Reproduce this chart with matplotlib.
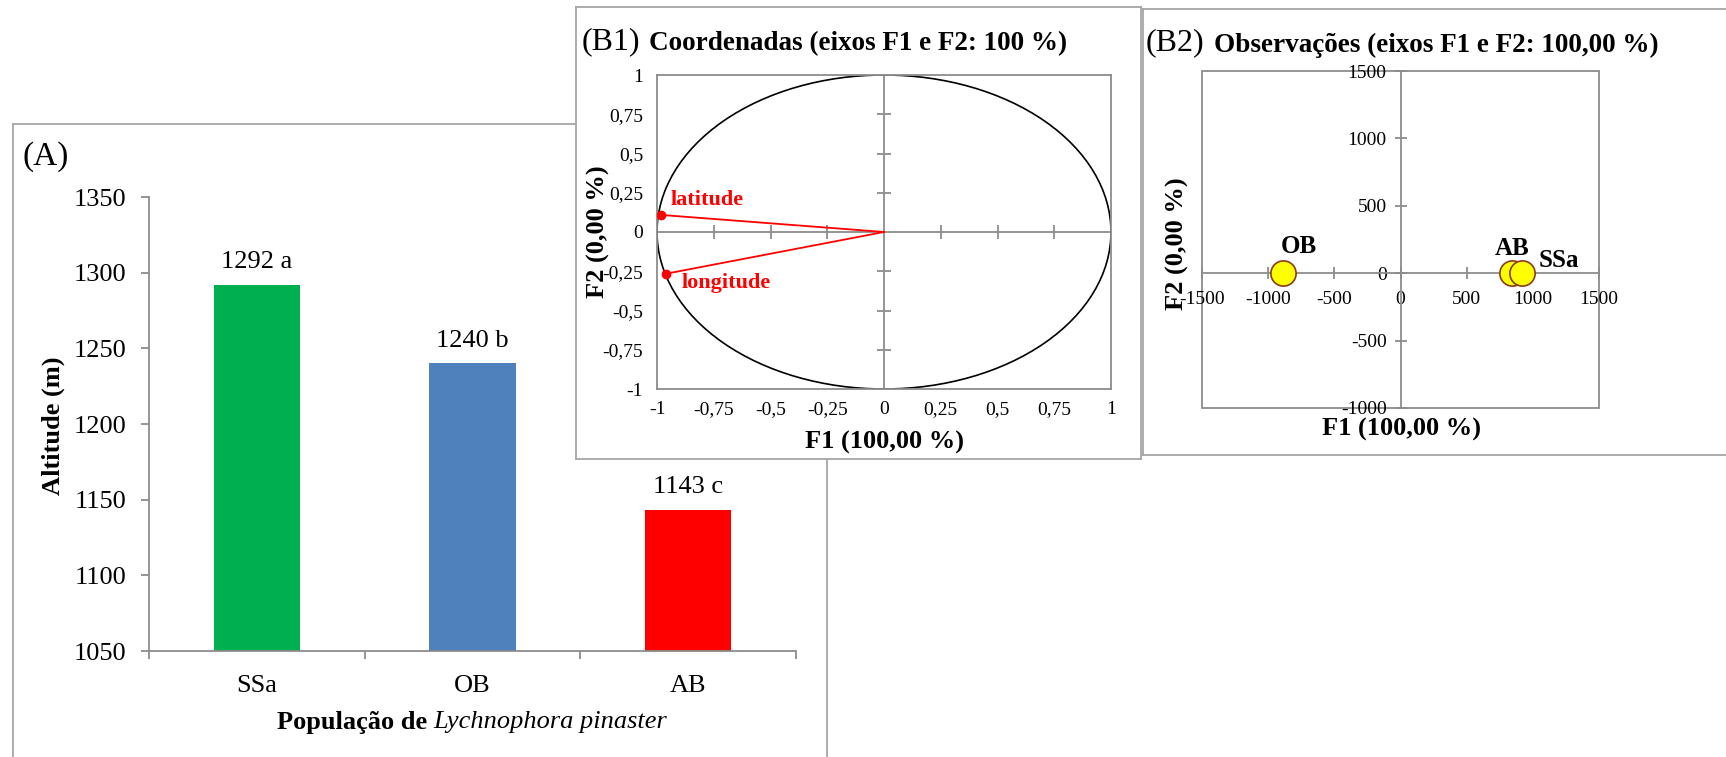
import matplotlib
matplotlib.use("Agg")
import matplotlib.pyplot as plt
from matplotlib.patches import Circle, Rectangle

plt.rcParams['font.family'] = ['Liberation Serif', 'DejaVu Serif']
plt.rcParams['axes.unicode_minus'] = False

# altitude per population
pops = ['SSa', 'OB', 'AB']
altitude = [1292, 1240, 1143]
letters = ['a', 'b', 'c']
bar_colors = ['#00B050', '#4F81BD', '#FF0000']
alt_ticks = [1050, 1100, 1150, 1200, 1250, 1300, 1350]

# PCA loadings (correlation circle)
vars_ = ['latitude', 'longitude']
load_f1 = [-0.984, -0.961]
load_f2 = [0.109, -0.266]
b1_ticks = [-1, -0.75, -0.5, -0.25, 0, 0.25, 0.5, 0.75, 1]

# PCA scores of the populations
obs = ['OB', 'AB', 'SSa']
score_f1 = [-885, 845, 915]
score_f2 = [0, 0, 0]
b2_xticks = [-1500, -1000, -500, 0, 500, 1000, 1500]
b2_yticks = [-1000, -500, 0, 500, 1000, 1500]

W, H = 1726, 757
GRAY = '#8C8C8C'
BOX = '#A6A6A6'
fig = plt.figure(figsize=(W / 100, H / 100), dpi=100)


def px_axes(l, t, r, b):
    return fig.add_axes([l / W, 1 - b / H, (r - l) / W, (b - t) / H])


def px_text(x, y, s, **kw):
    return fig.text(x / W, 1 - y / H, s, **kw)


def panel_box(l, t, r, b):
    bx = px_axes(l, t, r, b)
    bx.set_xticks([])
    bx.set_yticks([])
    for sp in bx.spines.values():
        sp.set_color(BOX)
        sp.set_linewidth(1.3)
    return bx


def fmt(v):
    return f"{v:g}".replace('.', ',')


# ---- (A) bar chart ----
panel_box(13, 124, 827, 790)
ax = px_axes(149, 197, 796, 651)
ax.patch.set_alpha(0)
xs = list(range(len(pops)))
ax.bar(xs, altitude, width=0.4, color=bar_colors, zorder=2)
for x, v, l in zip(xs, altitude, letters):
    ax.annotate(f"{v} {l}", (x, v), xytext=(0, 16.5), textcoords='offset points',
                ha='center', va='center', fontsize=19)
ax.set_xlim(-0.5, 2.5)
ax.set_ylim(1050, 1350)
ax.set_yticks(alt_ticks)
ax.set_xticks(xs)
ax.set_xticklabels(pops)
ax.set_xticks([-0.5, 0.5, 1.5, 2.5], minor=True)
ax.tick_params(axis='x', which='major', length=0, pad=17, labelsize=19)
ax.tick_params(axis='x', which='minor', length=6, width=1.3, color=GRAY, direction='out')
ax.tick_params(axis='y', length=6, width=1.3, color=GRAY, pad=10, labelsize=19)
for s in ['top', 'right']:
    ax.spines[s].set_visible(False)
for s in ['left', 'bottom']:
    ax.spines[s].set_color(GRAY)
    ax.spines[s].set_linewidth(1.3)

px_text(22, 157, '(A)', fontsize=24, va='center', ha='left')
px_text(53, 426, 'Altitude (m)', fontsize=19, fontweight='bold', rotation=90,
        ha='center', va='center')

# x label: bold part + italic species name
t1 = px_text(0, 722, 'População de', fontsize=19, fontweight='bold', va='center', ha='left')
t2 = px_text(0, 722, 'Lychnophora pinaster', fontsize=19, fontstyle='italic', va='center', ha='left')
fig.canvas.draw()
r = fig.canvas.get_renderer()
w1 = t1.get_window_extent(r).width
w2 = t2.get_window_extent(r).width
gap = 0.25 * 19 * 100 / 72
x0 = 472 - (w1 + gap + w2) / 2
t1.set_x(x0 / W)
t2.set_x((x0 + w1 + gap) / W)

# ---- (B1) correlation circle ----
panel_box(576, 7, 1141, 459)
b1 = px_axes(657, 75, 1111, 389)
b1.set_xlim(-1, 1)
b1.set_ylim(-1, 1)
b1.set_xticks(b1_ticks)
b1.set_yticks(b1_ticks)
b1.set_xticklabels([fmt(v) for v in b1_ticks])
b1.set_yticklabels([fmt(v) for v in b1_ticks])
b1.tick_params(axis='both', length=0, labelsize=14)
b1.tick_params(axis='x', pad=9)
b1.tick_params(axis='y', pad=10)
for sp in b1.spines.values():
    sp.set_color(GRAY)
    sp.set_linewidth(1.3)
b1.axhline(0, color=GRAY, lw=1.3, zorder=1)
b1.axvline(0, color=GRAY, lw=1.3, zorder=1)
inner = [v for v in b1_ticks if v not in (-1, 0, 1)]
b1.plot(inner, [0] * len(inner), ls='none', marker='|', ms=10, mew=1.3, color=GRAY, zorder=1)
b1.plot([0] * len(inner), inner, ls='none', marker='_', ms=10, mew=1.3, color=GRAY, zorder=1)
b1.add_patch(Circle((0, 0), 1, fill=False, ec='black', lw=1.2, zorder=2))
for name, fx, fy in zip(vars_, load_f1, load_f2):
    b1.plot([0, fx], [0, fy], color='#FF0000', lw=1.3, zorder=3)
    b1.plot([fx], [fy], 'o', color='#FF0000', ms=6, zorder=3)
b1.text(-0.94, 0.202, 'latitude', color='#FF0000', fontsize=16, fontweight='bold',
        ha='left', va='center')
b1.text(-0.89, -0.323, 'longitude', color='#FF0000', fontsize=16, fontweight='bold',
        ha='left', va='center')

px_text(582, 42, '(B1)', fontsize=23, ha='left', va='center')
px_text(649, 44, 'Coordenadas (eixos F1 e F2: 100 %)', fontsize=19.5, fontweight='bold',
        ha='left', va='center')
px_text(884, 442, 'F1 (100,00 %)', fontsize=19, fontweight='bold', ha='center', va='center')
px_text(598, 232, 'F2 (0,00 %)', fontsize=19, fontweight='bold', rotation=90,
        ha='center', va='center')

# ---- (B2) observations ----
panel_box(1143, 9, 1760, 455)
b2 = px_axes(1202, 71, 1599, 408)
b2.set_xlim(-1500, 1500)
b2.set_ylim(-1000, 1500)
b2.spines['left'].set_position(('data', 0))
b2.spines['bottom'].set_position(('data', 0))
b2.add_patch(Rectangle((0, 0), 1, 1, transform=b2.transAxes, fill=False,
                       ec=GRAY, lw=1.3, clip_on=False, zorder=1))
for sp in b2.spines.values():
    sp.set_color(GRAY)
    sp.set_linewidth(1.3)
b2.spines['top'].set_visible(False)
b2.spines['right'].set_visible(False)
b2.set_xticks(b2_xticks)
b2.set_yticks(b2_yticks)
b2.set_xticklabels([str(v) for v in b2_xticks])
b2.set_yticklabels([str(v) for v in b2_yticks])
b2.tick_params(axis='both', direction='inout', length=8, width=1.3, color=GRAY, labelsize=14)
b2.tick_params(axis='x', pad=9)
b2.tick_params(axis='y', pad=6)
b2.scatter(score_f1, score_f2, s=330, c='#FFFF00', edgecolors='#8B3A1A', linewidths=1.2,
           zorder=4, clip_on=False)
label_offsets = {'OB': (11, 19, 'center'), 'AB': (0, 18, 'center'), 'SSa': (12, 9.5, 'left')}
for name, fx, fy in zip(obs, score_f1, score_f2):
    dx, dy, ha = label_offsets[name]
    b2.annotate(name, (fx, fy), xytext=(dx, dy), textcoords='offset points',
                ha=ha, va='center', fontsize=18, fontweight='bold', zorder=5)

px_text(1146, 43, '(B2)', fontsize=23, ha='left', va='center')
px_text(1214, 45, 'Observações (eixos F1 e F2: 100,00 %)', fontsize=19.5, fontweight='bold',
        ha='left', va='center')
px_text(1401, 429, 'F1 (100,00 %)', fontsize=19, fontweight='bold', ha='center', va='center')
px_text(1177, 244, 'F2 (0,00 %)', fontsize=19, fontweight='bold', rotation=90,
        ha='center', va='center')

fig.savefig('out.png', dpi=100, facecolor='white')
